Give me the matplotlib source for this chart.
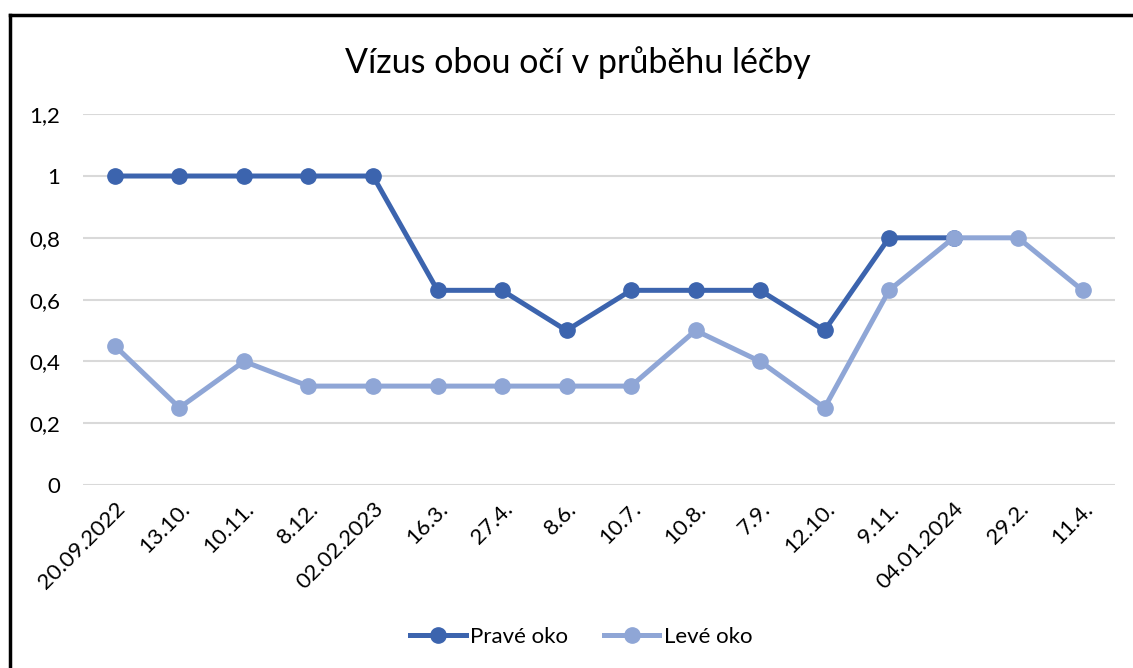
import matplotlib.pyplot as plt
from matplotlib.lines import Line2D
from matplotlib.ticker import FuncFormatter

dates = ["20.09.2022", "13.10.", "10.11.", "8.12.", "02.02.2023", "16.3.", "27.4.",
         "8.6.", "10.7.", "10.8.", "7.9.", "12.10.", "9.11.", "04.01.2024", "29.2.", "11.4."]
prave = [1, 1, 1, 1, 1, 0.63, 0.63, 0.5, 0.63, 0.63, 0.63, 0.5, 0.8, 0.8]
leve = [0.45, 0.25, 0.4, 0.32, 0.32, 0.32, 0.32, 0.32, 0.32, 0.5, 0.4, 0.25, 0.63, 0.8, 0.8, 0.63]

dark = "#3C64AE"
light = "#8FA6D6"

plt.rcParams['font.family'] = ['Lato', 'DejaVu Sans']

fig = plt.figure(figsize=(11.33, 6.68), dpi=100)
ax = fig.add_axes([0.073, 0.274, 0.911, 0.555])

ax.plot(range(len(prave)), prave, color=dark, lw=3.6, marker="o", ms=11,
        label="Pravé oko", zorder=3)
ax.plot(range(len(leve)), leve, color=light, lw=3.6, marker="o", ms=11,
        label="Levé oko", zorder=4)

ax.set_xlim(-0.5, len(dates) - 0.5)
ax.set_ylim(0, 1.2)
ax.set_yticks([0, 0.2, 0.4, 0.6, 0.8, 1.0, 1.2])
ax.yaxis.set_major_formatter(FuncFormatter(lambda v, p: ("%g" % round(v, 1)).replace(".", ",")))
ax.set_xticks(range(len(dates)))
ax.set_xticklabels(dates, rotation=45, ha="right", rotation_mode="anchor")
ax.tick_params(axis="both", length=0, labelsize=16, colors="black")
ax.tick_params(axis="x", pad=10)
ax.tick_params(axis="y", pad=16)
ax.grid(axis="y", color="#D9D9D9", lw=1.5)
ax.set_axisbelow(True)
for s in ax.spines.values():
    s.set_visible(False)

fig.text(0.51, 0.907, "Vízus obou očí v průběhu léčby", ha="center", va="center", fontsize=24.5)

handles = [Line2D([], [], color=dark, lw=3.6, marker="o", ms=11),
           Line2D([], [], color=light, lw=3.6, marker="o", ms=11)]
fig.legend(handles, ["Pravé oko", "Levé oko"], loc="center", bbox_to_anchor=(0.513, 0.047),
           ncol=2, frameon=False, fontsize=16, handlelength=2.5, handletextpad=0.2,
           columnspacing=1.6)

# frame around the chart (top and left edge visible)
fig.add_artist(Line2D([0.009, 1.0], [1 - 15 / 668, 1 - 15 / 668], color="black", lw=2.5,
                      transform=fig.transFigure))
fig.add_artist(Line2D([0.009, 0.009], [0, 1 - 15 / 668], color="black", lw=2.5,
                      transform=fig.transFigure))

fig.savefig("out.png", dpi=100)
